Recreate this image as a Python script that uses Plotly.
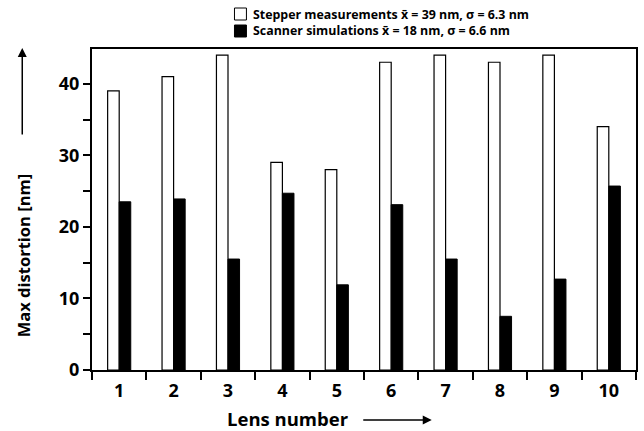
import plotly.graph_objects as go

# Lens-by-lens maximum distortion (nm)
lenses = ["1", "2", "3", "4", "5", "6", "7", "8", "9", "10"]
stepper_nm = [39, 41, 44, 29, 28, 43, 44, 43, 44, 34]
scanner_nm = [23.5, 23.9, 15.5, 24.7, 11.9, 23.1, 15.5, 7.5, 12.7, 25.7]
stepper_label = "Stepper measurements x\u0304 = 39 nm, \u03c3 = 6.3 nm"
scanner_label = "Scanner simulations x\u0304 = 18 nm, \u03c3 = 6.6 nm"
y_tickvals = [0, 5, 10, 15, 20, 25, 30, 35, 40]
y_ticktext = ["0", "", "10", "", "20", "", "30", "", "40"]

FONT = "Open Sans"
W, H = 644, 431
ML, MR, MT, MB = 92, 6, 49, 61
PW, PH = W - ML - MR, H - MT - MB


def px(x):
    """Horizontal pixel position -> paper fraction."""
    return (x - ML) / PW


def py(y):
    """Vertical pixel position (from top) -> paper fraction."""
    return (H - MB - y) / PH


fig = go.Figure()
fig.add_trace(go.Bar(
    x=lenses, y=stepper_nm, name=stepper_label,
    marker=dict(color="white", line=dict(color="black", width=1.2)),
))
fig.add_trace(go.Bar(
    x=lenses, y=scanner_nm, name=scanner_label,
    marker=dict(color="black", line=dict(color="black", width=1)),
))

# Legend drawn as boxes + labels above the plot
legend_rows = [(stepper_label, "white", 14), (scanner_label, "black", 31)]
shapes = []
annotations = []
for label, fill, yc in legend_rows:
    shapes.append(dict(type="rect", xref="paper", yref="paper",
                       x0=px(235), x1=px(247), y0=py(yc + 6), y1=py(yc - 6),
                       fillcolor=fill, line=dict(color="black", width=1)))
    annotations.append(dict(text=label, xref="paper", yref="paper",
                            x=px(252), y=py(yc), xanchor="left",
                            yanchor="middle", showarrow=False,
                            font=dict(family=FONT, size=12.4, weight="bold")))

annotations += [
    dict(text="Lens number", xref="paper", yref="paper",
         x=px(289), y=py(418), xanchor="center", yanchor="middle",
         showarrow=False, font=dict(family=FONT, size=18.5, weight="bold")),
    dict(text="", xref="paper", yref="paper", x=px(433), y=py(420),
         ax=-70, ay=0, showarrow=True, arrowhead=2, arrowsize=1.2,
         arrowwidth=1.5, arrowcolor="black"),
    dict(text="Max distortion [nm]", xref="paper", yref="paper",
         x=px(23), y=py(256), xanchor="center", yanchor="middle",
         textangle=-90, showarrow=False,
         font=dict(family=FONT, size=16.5, weight="bold")),
    dict(text="", xref="paper", yref="paper", x=px(22), y=py(48),
         ax=0, ay=88, showarrow=True, arrowhead=2, arrowsize=1.2,
         arrowwidth=1.5, arrowcolor="black"),
]

fig.update_layout(
    width=W, height=H,
    margin=dict(l=ML, r=MR, t=MT, b=MB),
    paper_bgcolor="white", plot_bgcolor="white",
    barmode="group", bargap=0.575, bargroupgap=0,
    font=dict(family=FONT, color="black"),
    showlegend=False,
    xaxis=dict(
        type="category", range=[-0.5, 9.5],
        tickson="boundaries", ticks="outside", ticklen=8, tickwidth=2,
        tickcolor="black", showline=True, linecolor="black", linewidth=2,
        mirror=True, showgrid=False, zeroline=False, ticklabelstandoff=3,
        tickfont=dict(family=FONT, size=18, weight="bold"),
    ),
    yaxis=dict(
        range=[0, 44.85], tickvals=y_tickvals, ticktext=y_ticktext,
        ticks="outside", ticklen=7, tickwidth=2, tickcolor="black",
        showline=True, linecolor="black", linewidth=2, mirror=True,
        showgrid=False, zeroline=False,
        tickfont=dict(family=FONT, size=18, weight="bold"),
    ),
    shapes=shapes,
    annotations=annotations,
)

fig.write_html("out.html")
